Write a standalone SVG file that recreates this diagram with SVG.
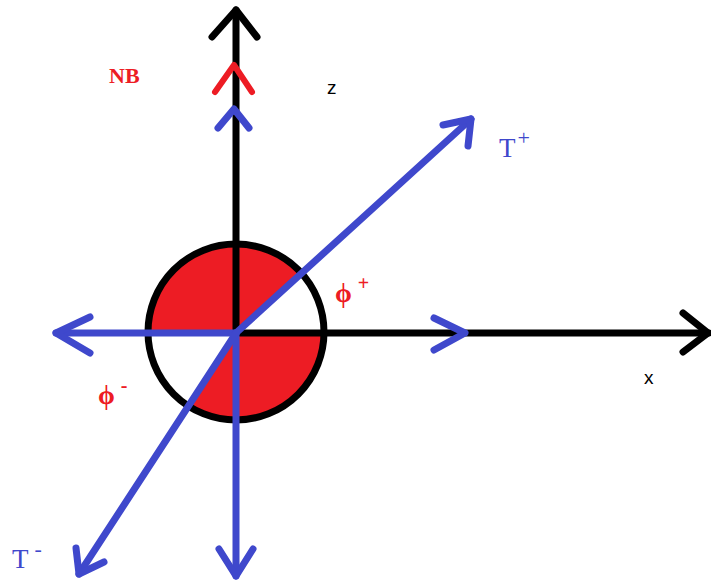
<svg xmlns="http://www.w3.org/2000/svg" width="711" height="584" viewBox="0 0 711 584">
<style>
.k{fill:none;stroke:#000;stroke-width:7;stroke-linecap:round;stroke-linejoin:round}
.b{fill:none;stroke:#3F48CC;stroke-width:7;stroke-linecap:round;stroke-linejoin:round}
.r{fill:none;stroke:#ED1C24;stroke-width:6;stroke-linecap:round;stroke-linejoin:round}
.ser{font-family:"Liberation Serif","DejaVu Serif",serif}
.san{font-family:"Liberation Sans","DejaVu Sans",sans-serif;fill:#000}
</style>
<rect width="711" height="584" fill="#fff"/>
<g id="sphere">
<circle cx="236" cy="332" r="88" fill="#ED1C24"/>
<path d="M236,332 L324,332 A88,88 0 0 0 301,272.5 Z" fill="#fff"/>
<path d="M236,332 L148,332 A88,88 0 0 0 188,405.7 Z" fill="#fff"/>
<circle cx="236" cy="332" r="88" fill="none" stroke="#000" stroke-width="7"/>
</g>
<g id="connectors">
<path class="k" d="M236,10 L236,333"/>
<path class="k" d="M212,37 L236,10 L257,37"/>
<path class="k" d="M236,333 L709,333"/>
<path class="k" d="M683,313 L708,333 L683,352"/>
<path class="r" d="M215,92 L234,65 L252,92"/>
<path class="b" d="M218,128 L234,109 L249,128"/>
<path class="b" d="M434,318 L465,333 L434,350"/>
<path class="b" d="M236,333 L56,333"/>
<path class="b" d="M90,317 L56,333 L90,353"/>
<path class="b" d="M236,333 L236,576"/>
<path class="b" d="M219,549 L236,576 L253,549"/>
<path class="b" d="M236,333 L471,119"/>
<path class="b" d="M443,125 L471,119 L468,146"/>
<path class="b" d="M236,333 L79,574"/>
<path class="b" d="M76,548 L79,574 L104,562"/>
</g>
<g id="label-NB"><text class="ser" x="109" y="83" font-size="22" font-weight="bold" fill="#ED1C24">NB</text></g>
<g id="label-z"><text class="san" x="327" y="94" font-size="19">z</text></g>
<g id="label-x"><text class="san" x="644" y="384" font-size="19">x</text></g>
<g id="label-Tplus"><text class="ser" x="499" y="157" font-size="27" fill="#3F48CC">T<tspan dx="2" dy="-12" font-size="22">+</tspan></text></g>
<g id="label-Tminus"><text class="ser" x="12" y="568" font-size="27" fill="#3F48CC">T<tspan dx="6" dy="-12" font-size="22">-</tspan></text></g>
<g id="label-phiplus"><text class="ser" x="335" y="302" font-size="27" font-weight="bold" fill="#ED1C24">ϕ<tspan dx="6" dy="-12" font-size="20">+</tspan></text></g>
<g id="label-phiminus"><text class="ser" x="98" y="404" font-size="27" font-weight="bold" fill="#ED1C24">ϕ<tspan dx="6" dy="-12" font-size="20">-</tspan></text></g>
</svg>
